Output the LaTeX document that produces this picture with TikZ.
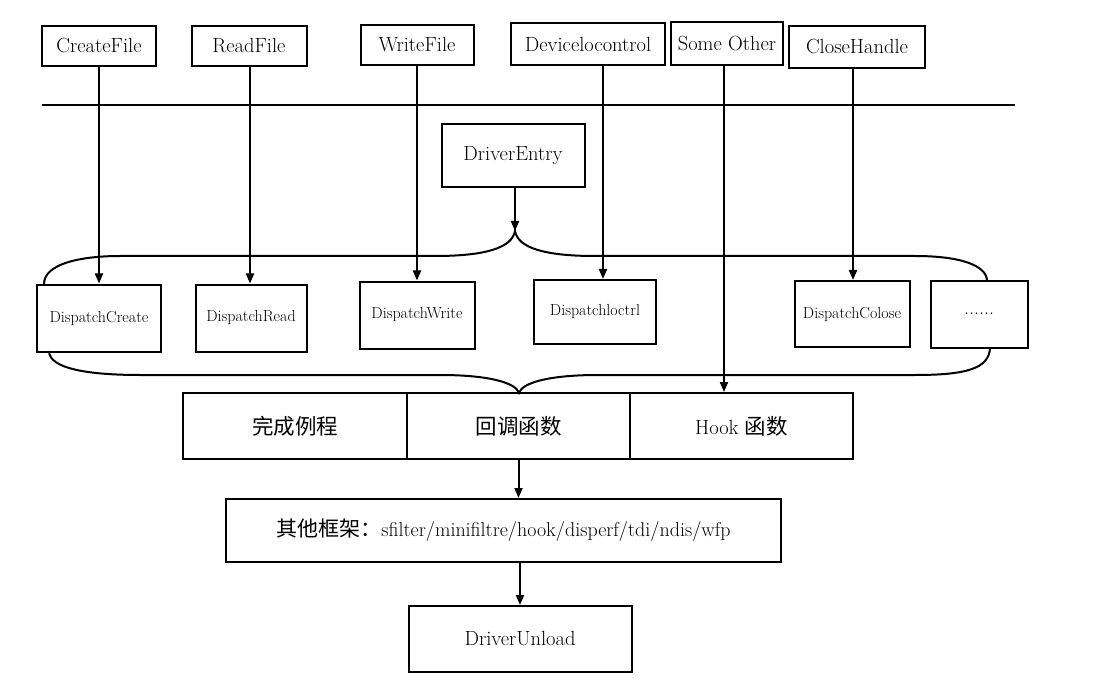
\documentclass[tikz,border=0pt]{standalone}
\usepackage{fontspec}
\newfontfamily\cjk{Noto Sans CJK SC}
\usetikzlibrary{arrows.meta,calc}
\begin{document}
\begin{tikzpicture}[x=1pt,y=-1pt,
  every path/.style={line width=2pt},
  bx/.style={draw,line width=2pt,inner sep=0pt,align=center},
  topbox/.style={bx,font=\fontsize{20.5}{24}\selectfont},
  dispbox/.style={bx,font=\fontsize{16}{18}\selectfont},
  bigbox/.style={bx,font=\fontsize{20.5}{24}\selectfont},
  arr/.style={-{Triangle[length=10pt,width=8pt]},line width=2pt},
  brace/.style={line width=2pt}]
\useasboundingbox (0,0) rectangle (1098,687);
% top calls
\node[topbox,minimum width=114pt,minimum height=40pt] (cf) at (99,46) {CreateFile};
\node[topbox,minimum width=115pt,minimum height=40pt] (rf) at (249,46) {ReadFile};
\node[topbox,minimum width=113pt,minimum height=40pt] (wf) at (417,45) {WriteFile};
\node[topbox,minimum width=154pt,minimum height=42pt] (dev) at (588,44) {Devicelocontrol};
\node[topbox,minimum width=112pt,minimum height=43pt] (so) at (727,44) {Some Other};
\node[topbox,minimum width=136pt,minimum height=42pt] (ch) at (857,47) {CloseHandle};
% separator
\coordinate (sepL) at (42,105);
\coordinate (sepR) at (1015,105);
\draw (sepL) -- (sepR);
% driver entry
\node[topbox,minimum width=143pt,minimum height=63pt] (en) at (513,156) {DriverEntry};
% dispatch routines
\node[dispbox,minimum width=124pt,minimum height=67pt] (dc) at (99,318) {DispatchCreate};
\node[dispbox,minimum width=111pt,minimum height=67pt] (dr) at (251,318) {DispatchRead};
\node[dispbox,minimum width=115pt,minimum height=67pt] (dw) at (417,315) {DispatchWrite};
\node[dispbox,minimum width=122pt,minimum height=64pt] (di) at (595,312) {Dispatchloctrl};
\node[dispbox,minimum width=115pt,minimum height=66pt] (dcl) at (852,314) {DispatchColose};
\node[dispbox,minimum width=97pt,minimum height=67pt] (dd) at (979,314) {\fontsize{20}{24}\selectfont ......};
% row of three
\node[bigbox,minimum width=224pt,minimum height=66pt] (wc) at (295,426) {\cjk\fontsize{21.5}{24}\selectfont 完成例程};
\node[bigbox,minimum width=223pt,minimum height=66pt] (hd) at (518.5,426) {\cjk\fontsize{21.5}{24}\selectfont 回调函数};
\node[bigbox,minimum width=223pt,minimum height=66pt] (hk) at (741.5,426) {Hook {\cjk\fontsize{21.5}{24}\selectfont 函数}};
% frameworks
\node[bigbox,font=\fontsize{20}{24}\selectfont,minimum width=555pt,minimum height=63pt] (fr) at (503.5,530.5) {{\cjk\fontsize{21}{24}\selectfont 其他框架：}sfilter/minifiltre/hook/disperf/tdi/ndis/wfp};
% unload
\node[bigbox,minimum width=223pt,minimum height=66pt] (un) at (520,639) {DriverUnload};
% braces
\coordinate (tcusp) at (515,231);
\coordinate (bcusp) at (519,393);
\draw[brace] (44,284) .. controls (44,264) and (80,256) .. (120,256) -- (435,256)
  .. controls (485,256) and (512,248) .. (tcusp)
  .. controls (518,248) and (545,256) .. (595,256) -- (915,256)
  .. controls (962,256) and (987,266) .. (987,281);
\draw[brace] (49,351) .. controls (49,369) and (90,375) .. (140,375) -- (440,375)
  .. controls (490,375) and (516,383) .. (bcusp)
  .. controls (522,383) and (548,375) .. (598,375) -- (915,375)
  .. controls (965,375) and (990,369) .. (990,347);
% arrows
\draw[arr] (en.south -| tcusp) -- (tcusp);
\draw[arr] (cf.south) -- (cf.south |- dc.north);
\draw[arr] ([xshift=1pt]rf.south) coordinate (r1) -- (r1 |- dr.north);
\draw[arr] (wf.south) -- (wf.south |- dw.north);
\draw[arr] ([xshift=15pt]dev.south) coordinate (d1) -- (d1 |- di.north);
\draw[arr] ([xshift=-4pt]ch.south) coordinate (c1) -- (c1 |- dcl.north);
\draw[arr] ([xshift=-3pt]so.south) coordinate (s1) -- (s1 |- hk.north);
\draw[arr] (hd.south) -- (hd.south |- fr.north);
\draw[arr] (un.north |- fr.south) -- (un.north);
\end{tikzpicture}
\end{document}
